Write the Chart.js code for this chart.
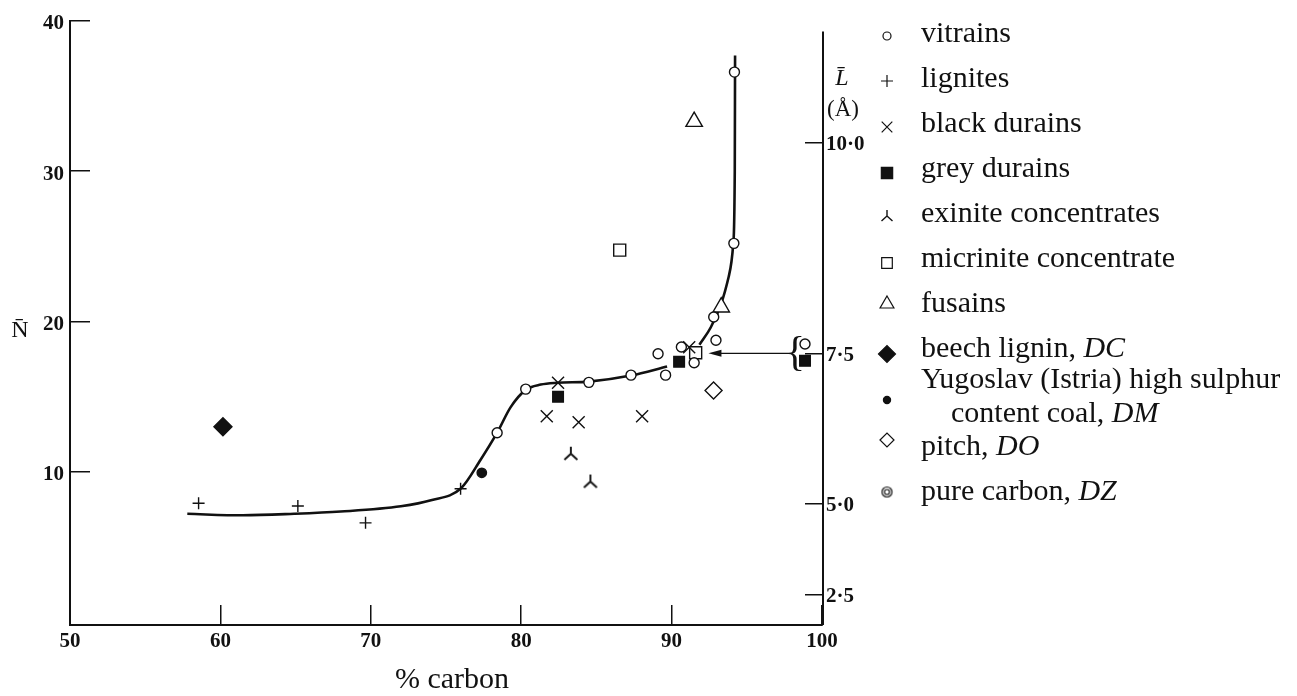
<!DOCTYPE html>
<html>
<head>
<meta charset="utf-8">
<script src="https://cdn.jsdelivr.net/npm/chart.js@4.4.1/dist/chart.umd.min.js"></script>
<style>
  html, body { margin: 0; padding: 0; background: #fff; }
  #coalChart { display: block; }
</style>
</head>
<body>
<canvas id="coalChart" width="1297" height="696"></canvas>
<script>
/* Axis ticks */
const xTicks = [50, 60, 70, 80, 90, 100];
const yTicks = [10, 20, 30, 40];
// right axis shows L (Å); labels sit at the N value they match
const lTickLabels = ['2·5', '5·0', '7·5', '10·0'];
const lTickAtN = [1.8, 7.85, 17.88, 31.9];
const lAxisTopN = 39.3;

/* Series: [% carbon, N] */
const vitrains = [[78.4, 12.6], [80.3, 15.5], [84.5, 15.95], [87.3, 16.43], [89.6, 16.43],
  [89.1, 17.85], [90.65, 18.3], [91.5, 17.25], [92.95, 18.75], [92.8, 20.3],
  [94.14, 25.2], [94.18, 36.6], [98.87, 18.5]];
const lignites = [[58.55, 7.9], [65.15, 7.72], [69.65, 6.6], [75.97, 8.87]];
const blackDurains = [[81.7, 13.7], [83.82, 13.3], [88.04, 13.7], [82.45, 15.92], [91.17, 18.28]];
const greyDurains = [[82.45, 14.99], [90.5, 17.32], [98.87, 17.38]];
const exinite = [[83.3, 11.2], [84.6, 9.35]];
const micrinite = [[86.55, 24.75], [91.6, 17.92]];
const fusains = [[91.5, 33.3], [93.3, 20.95]];
const beechLignin = [[60.17, 13.0]];
const yugoslavCoal = [[77.38, 9.93]];
const pitch = [[92.79, 15.4]];
const pureCarbon = [];

// hand drawn trend line through the vitrains (null = break in the line)
const fittedCurve = [[57.8, 7.2], [61.5, 7.1], [64.9, 7.2], [68, 7.35], [72, 7.7], [74, 8.1],
  [76, 8.9], [77.3, 10.8], [78.4, 12.6], [79.3, 14.3], [80.3, 15.45], [81.3, 15.8],
  [82.4, 15.92], [84.5, 16.0], [87.3, 16.4], [89.7, 17.0], [90.8, null], [91.85, 18.45],
  [92.6, 19.6], [93.3, 21.2], [93.8, 23.0], [94.1, 25.2], [94.2, 30], [94.22, 37.7]];

// off-scale points: brace at 98.9 % carbon, arrow back to ~92.5 %
const arrowFromX = 97.95;
const arrowToX = 92.45;
const arrowAtN = 17.88;

const seriesNames = ['vitrains', 'lignites', 'black durains', 'grey durains',
  'exinite concentrates', 'micrinite concentrate', 'fusains', 'beech lignin, ',
  'Yugoslav (Istria) high sulphur\ncontent coal, ', 'pitch, ', 'pure carbon, '];
const seriesCodes = ['', '', '', '', '', '', '', 'DC', 'DM', 'DO', 'DZ'];
const seriesData = [vitrains, lignites, blackDurains, greyDurains, exinite, micrinite,
  fusains, beechLignin, yugoslavCoal, pitch, pureCarbon];

const INK = '#111';
const SERIF = '"Liberation Serif", "DejaVu Serif", serif';

// custom marker images
function makeExinite(size, lw) {
  const c = document.createElement('canvas');
  c.width = size; c.height = size;
  const g = c.getContext('2d');
  const m = size / 2;
  g.strokeStyle = INK; g.lineWidth = lw;
  g.beginPath();
  g.moveTo(m, 1); g.lineTo(m, m);
  g.lineTo(1.5, size - 2);
  g.moveTo(m, m); g.lineTo(size - 1.5, size - 2);
  g.stroke();
  return c;
}
function makeDoubleCircle(size) {
  const c = document.createElement('canvas');
  c.width = size; c.height = size;
  const g = c.getContext('2d');
  const m = size / 2;
  g.strokeStyle = INK; g.lineWidth = 1.2;
  g.beginPath(); g.arc(m, m, m - 1.5, 0, Math.PI * 2); g.stroke();
  g.beginPath(); g.arc(m, m, m / 2.6, 0, Math.PI * 2); g.stroke();
  return c;
}

// marker look for plot and legend
const markers = [
  { style: 'circle', fill: '#fff', r: 5, lr: 4 },
  { style: 'cross', fill: '#fff', r: 6, lr: 6 },
  { style: 'crossRot', fill: '#fff', r: 8.5, lr: 7.5 },
  { style: 'rect', fill: INK, r: 7.5, lr: 8 },
  { style: makeExinite(16, 1.9), legendStyle: makeExinite(14, 1.4), fill: INK, r: 8, lr: 7 },
  { style: 'rect', fill: '#fff', r: 8.5, lr: 7.5 },
  { style: 'triangle', fill: '#fff', r: 9.5, lr: 8 },
  { style: 'rectRot', fill: INK, r: 9, lr: 8.5 },
  { style: 'circle', fill: INK, r: 4.7, lr: 3.6 },
  { style: 'rectRot', fill: '#fff', r: 8.5, lr: 7 },
  { style: makeDoubleCircle(14), legendStyle: makeDoubleCircle(13), fill: '#fff', r: 7, lr: 7 }
];

const toXY = arr => arr.map(p => ({ x: p[0], y: p[1] }));

const datasets = seriesData.map((arr, i) => ({
  type: 'scatter',
  label: seriesNames[i] + seriesCodes[i],
  data: toXY(arr),
  pointStyle: markers[i].style,
  pointRadius: markers[i].r,
  pointHoverRadius: markers[i].r,
  pointBackgroundColor: markers[i].fill,
  pointBorderColor: INK,
  pointBorderWidth: 1.4,
  order: 1
}));
datasets.push({
  type: 'line',
  label: 'curve',
  data: toXY(fittedCurve),
  borderColor: INK,
  borderWidth: 2.6,
  pointRadius: 0,
  cubicInterpolationMode: 'monotone',
  spanGaps: false,
  fill: false,
  order: 5
});

// text, arrow, brace, right axis line and legend drawn on top of the chart
const decorPlugin = {
  id: 'decor',
  afterDraw(chart) {
    const ctx = chart.ctx;
    const sx = chart.scales.x, sy = chart.scales.y;
    ctx.save();
    ctx.fillStyle = INK;
    ctx.strokeStyle = INK;

    // right axis line (starts a little below the left one)
    const ra = chart.scales.y2;
    ctx.lineWidth = 2;
    ctx.beginPath();
    ctx.moveTo(ra.left + 1, ra.getPixelForValue(lAxisTopN));
    ctx.lineTo(ra.left + 1, chart.chartArea.bottom);
    ctx.stroke();

    // axis titles
    ctx.textBaseline = 'alphabetic';
    ctx.textAlign = 'center';
    ctx.font = '30px ' + SERIF;
    ctx.fillText('% carbon', 452, 688);
    ctx.font = '24px ' + SERIF;
    ctx.fillText('N\u0304', 20, 337);
    ctx.font = 'italic 24px ' + SERIF;
    ctx.fillText('L\u0304', 842, 85);
    ctx.font = '23px ' + SERIF;
    ctx.fillText('(Å)', 843, 116);

    // arrow from the brace
    const ay = sy.getPixelForValue(arrowAtN);
    const x0 = sx.getPixelForValue(arrowFromX);
    const x1 = sx.getPixelForValue(arrowToX);
    ctx.lineWidth = 1.1;
    ctx.beginPath();
    ctx.moveTo(x0, ay); ctx.lineTo(x1 + 10, ay);
    ctx.stroke();
    ctx.beginPath();
    ctx.moveTo(x1, ay); ctx.lineTo(x1 + 13, ay - 3.5); ctx.lineTo(x1 + 13, ay + 3.5);
    ctx.closePath();
    ctx.fill();
    ctx.font = '42px ' + SERIF;
    ctx.textAlign = 'center';
    ctx.textBaseline = 'middle';
    ctx.fillText('{', x0 + 4, ay + 1);

    // legend
    const symX = 887, textX = 921;
    const baselines = [42, 87, 132, 177, 222, 267, 312, 357, 388, 455, 500];
    const symY = [36, 81, 127, 173, 216, 263, 304, 354, 400, 440, 492];
    ctx.textAlign = 'left';
    ctx.textBaseline = 'alphabetic';
    seriesNames.forEach((name, i) => {
      const m = markers[i];
      ctx.fillStyle = m.fill;
      ctx.strokeStyle = INK;
      ctx.lineWidth = 1.2;
      Chart.helpers.drawPoint(ctx, {
        pointStyle: m.legendStyle || m.style,
        radius: m.lr,
        rotation: 0,
        borderWidth: 1.2
      }, symX, symY[i]);
      ctx.fillStyle = INK;
      const lines = name.split('\n');
      lines.forEach((line, j) => {
        const lx = textX + (j > 0 ? 30 : 0);
        const ly = baselines[i] + j * 34;
        ctx.font = '30px ' + SERIF;
        ctx.fillText(line, lx, ly);
        if (j === lines.length - 1 && seriesCodes[i]) {
          const w = ctx.measureText(line).width;
          ctx.font = 'italic 30px ' + SERIF;
          ctx.fillText(seriesCodes[i], lx + w, ly);
        }
      });
    });
    ctx.restore();
  }
};

const tickFont = { family: SERIF, size: 21, weight: 'bold' };
// labels are pushed back out past the inward ticks, so drop the extra edge padding
const noEdgePad = s => { s.paddingTop = 0; s.paddingBottom = 0; };

new Chart(document.getElementById('coalChart'), {
  data: { datasets: datasets },
  plugins: [decorPlugin],
  options: {
    responsive: false,
    animation: false,
    layout: { padding: { top: 21, right: 400, left: 0, bottom: 0 } },
    plugins: { legend: { display: false }, tooltip: { enabled: false } },
    scales: {
      x: {
        type: 'linear',
        position: 'bottom',
        min: 50,
        max: 100,
        afterBuildTicks: s => { s.ticks = xTicks.map(v => ({ value: v })); },
        afterFit: s => { s.height = 71; s.paddingLeft = 0; s.paddingRight = 0; },
        ticks: { color: INK, font: tickFont, padding: 24, maxRotation: 0 },
        grid: { drawOnChartArea: false, drawTicks: true, tickLength: -20, color: INK, lineWidth: 1.5 },
        border: { display: true, color: INK, width: 2 }
      },
      y: {
        type: 'linear',
        position: 'left',
        min: -0.2,
        max: 40,
        afterBuildTicks: s => { s.ticks = yTicks.map(v => ({ value: v })); },
        afterFit: s => { s.width = 70; noEdgePad(s); },
        ticks: { color: INK, font: tickFont, padding: 26, labelOffset: 3 },
        grid: { drawOnChartArea: false, drawTicks: true, tickLength: -20, color: INK, lineWidth: 1.5 },
        border: { display: true, color: INK, width: 2 }
      },
      y2: {
        type: 'linear',
        position: 'right',
        min: -0.2,
        max: 40,
        afterBuildTicks: s => { s.ticks = lTickAtN.map(v => ({ value: v })); },
        afterFit: s => { s.width = 75; noEdgePad(s); },
        ticks: {
          color: INK, font: tickFont, padding: 21, labelOffset: 2,
          callback: (value, index) => lTickLabels[index]
        },
        grid: { drawOnChartArea: false, drawTicks: true, tickLength: -17, color: INK, lineWidth: 1.5 },
        border: { display: false }
      }
    }
  }
});
</script>
</body>
</html>
